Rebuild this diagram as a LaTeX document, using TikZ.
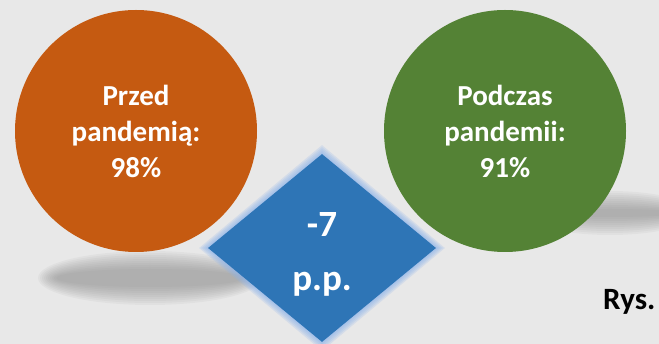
\documentclass[tikz,border=0pt]{standalone}
\usepackage{fontspec}
\setmainfont{Carlito}
\usetikzlibrary{shapes.geometric}

\definecolor{bgray}{HTML}{E8E8E8}
\definecolor{orng}{HTML}{C55A11}
\definecolor{grn}{HTML}{548235}
\definecolor{blu}{HTML}{2E75B6}
\definecolor{glowblu}{HTML}{8FB4EA}

\tikzset{
  ball/.style={circle,minimum size=242pt,inner sep=0pt,text=white,align=center,
    font=\fontsize{29}{36}\selectfont\bfseries},
  diam/.style={diamond,aspect=1.2,minimum width=228pt,minimum height=188pt,inner sep=0pt},
}

\begin{document}
\begin{tikzpicture}[x=1pt,y=-1pt]
         \useasboundingbox (0,0) rectangle (659,344);
         \fill[bgray] (0,0) rectangle (659,344);
         % shadows
         \foreach \k in {0,...,9}
           \fill[gray,opacity=0.07] (150,278) ellipse ({112-2*\k} and {27-2*\k});
         \foreach \k in {0,...,9}
           \fill[gray,opacity=0.07] (610,213) ellipse ({85-2*\k} and {22-2*\k});
         % circles
         \node[ball,fill=orng] (before) at (136,131) {Przed\\pandemią:\\98\%};
         \node[ball,fill=grn] (during) at (505,131) {Podczas\\pandemii:\\91\%};
         % glow
         \coordinate (dc) at (322,248);
         \foreach \s in {18,14,10,6,3}
           \node[diam,fill=glowblu,opacity=0.22,minimum width=228pt+\s pt,minimum height=188pt+\s pt] at (dc) {};
         \node[diam,fill=blu] (diff) at (dc) {};
         \node[text=white,align=center,font=\fontsize{37}{54}\selectfont\bfseries] (difftxt)
           at ([yshift=-6pt]diff.center) {-7\\p.p.};
         \node[anchor=base west,inner sep=0pt,font=\fontsize{31}{34}\selectfont\bfseries] (rys) at (603,310) {Rys.};
       \end{tikzpicture}
\end{document}
